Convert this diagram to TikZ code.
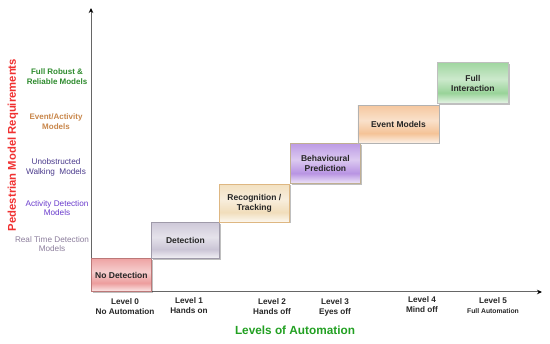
\documentclass[tikz,border=0pt]{standalone}
\usepackage{fontspec}
\setmainfont{Liberation Sans}
\usetikzlibrary{arrows.meta,shadows}
\definecolor{cRed}{HTML}{E57373}
\definecolor{cGray}{HTML}{B4ACC4}
\definecolor{cBeige}{HTML}{EBCF9E}
\definecolor{cPurple}{HTML}{9A66D6}
\definecolor{cOrange}{HTML}{F0A96A}
\definecolor{cGreen}{HTML}{6DC06D}
\definecolor{lGreen}{HTML}{2E8B2E}
\definecolor{lOrange}{HTML}{C8864A}
\definecolor{lDPurple}{HTML}{4A3A8C}
\definecolor{lPurple}{HTML}{6A3CCC}
\definecolor{lGrayP}{HTML}{8C7E9C}
\definecolor{axisRed}{HTML}{F03030}
\definecolor{axisGreen}{HTML}{22A022}
\newcommand{\mkshade}[2]{\pgfdeclareverticalshading{#1}{100bp}{color(0bp)=(#2!15!white); color(25bp)=(#2!15!white); color(38bp)=(#2!70!white); color(55bp)=(#2!35!white); color(75bp)=(#2!65!white); color(100bp)=(#2!65!white)}}
\mkshade{shRed}{cRed}
\mkshade{shGray}{cGray}
\mkshade{shBeige}{cBeige}
\mkshade{shPurple}{cPurple}
\mkshade{shOrange}{cOrange}
\mkshade{shGreen}{cGreen}
\tikzset{
  lvlbox/.style={draw=#1!60!gray, line width=0.8pt, anchor=south west, align=center,
    font=\fontsize{8.5}{10}\selectfont\bfseries, text=black!85,
    drop shadow={shadow xshift=1.2pt, shadow yshift=-1.2pt, opacity=0.25, fill=black}},
  req/.style={align=center, font=\fontsize{8.2}{9.8}\selectfont},
  lvl/.style={align=center, font=\fontsize{8.2}{10}\selectfont\bfseries, text=black!85},
  ax/.style={draw=black!60, line width=1pt, -{Stealth[length=5pt,width=4.5pt,black]}}
}
\begin{document}
\begin{tikzpicture}[x=1pt,y=-1pt]
\useasboundingbox (0,0) rectangle (550,344);
\coordinate (O) at (91,292);
\coordinate (Ytop) at (91,8);
\coordinate (Xend) at (542,292);
\draw[ax] (O) -- (Ytop);
\draw[ax] (O) -- (Xend);

\node[lvlbox=cRed, shading=shRed, minimum width=60pt, minimum height=33pt] (b0) at (91,292) {No Detection};
\node[lvlbox=cGray, shading=shGray, minimum width=68pt, minimum height=36pt] (b1) at (151,259) {Detection};
\node[lvlbox=cBeige, draw=cBeige!70!brown, shading=shBeige, minimum width=70pt, minimum height=38pt] (b2) at (219,222.5) {Recognition /\\Tracking};
\node[lvlbox=cPurple, draw=cBeige!60!gray, shading=shPurple, minimum width=70pt, minimum height=40pt] (b3) at (290,184) {Behavioural\\Prediction};
\node[lvlbox=cOrange, draw=black!30, shading=shOrange, minimum width=81pt, minimum height=38pt] (b4) at (357.5,143.5) {Event Models};
\node[lvlbox=cGreen, draw=black!25, shading=shGreen, minimum width=71pt, minimum height=41pt] (b5) at (437,104) {Full\\Interaction};

\node[req, text=lGreen, font=\fontsize{8}{9.8}\selectfont\bfseries] (r5) at (57,77) {Full Robust \&\\Reliable Models};
\node[req, text=lOrange, font=\fontsize{8}{9.8}\selectfont\bfseries] (r4) at (56,122) {Event/Activity\\Models};
\node[req, text=lDPurple] (r3) at (56,167) {Unobstructed\\Walking~ Models};
\node[req, text=lPurple] (r2) at (57,208) {Activity Detection\\Models};
\node[req, text=lGrayP] (r1) at (52,244) {Real Time Detection\\Models};

\node[rotate=90, text=axisRed, font=\fontsize{11.3}{13}\selectfont\bfseries] (ylab) at (13,145) {Pedestrian Model Requirements};

\node[lvl] (l0) at (125,307) {Level 0\\No Automation};
\node[lvl] (l1) at (189,306) {Level 1\\Hands on};
\node[lvl] (l2) at (272,307) {Level 2\\Hands off};
\node[lvl] (l3) at (335,307) {Level 3\\Eyes off};
\node[lvl] (l4) at (422,305) {Level 4\\Mind off};
\node[lvl] (l5) at (493,306) {Level 5\\{\fontsize{6.8}{8}\selectfont Full Automation}};

\node[text=axisGreen, font=\fontsize{11.8}{13}\selectfont\bfseries] (xlab) at (295,330) {Levels of Automation};
\end{tikzpicture}
\end{document}
